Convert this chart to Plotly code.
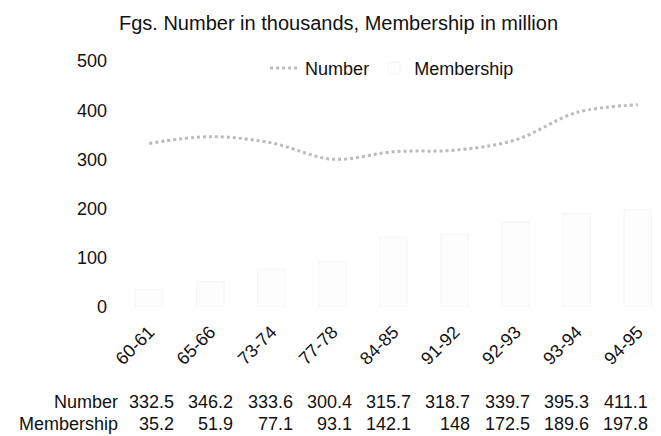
import plotly.graph_objects as go

years = ["60-61", "65-66", "73-74", "77-78", "84-85", "91-92", "92-93", "93-94", "94-95"]
number = [332.5, 346.2, 333.6, 300.4, 315.7, 318.7, 339.7, 395.3, 411.1]
membership = [35.2, 51.9, 77.1, 93.1, 142.1, 148, 172.5, 189.6, 197.8]
number_txt = ["332.5", "346.2", "333.6", "300.4", "315.7", "318.7", "339.7", "395.3", "411.1"]
membership_txt = ["35.2", "51.9", "77.1", "93.1", "142.1", "148", "172.5", "189.6", "197.8"]

font = "Liberation Sans, Arial, sans-serif"
W, H = 661, 436
ml, mr, mt, mb = 118, 8, 53, 137

fig = go.Figure()

fig.add_bar(
    x=years,
    y=membership,
    name="Membership",
    marker=dict(color="rgba(248,248,248,0.3)", line=dict(color="rgba(210,210,210,0.4)", width=0.5)),
    width=0.45,
)

fig.add_scatter(
    x=years,
    y=number,
    name="Number",
    mode="lines",
    line=dict(color="rgba(175,175,175,0.85)", width=3, shape="spline", dash="dot"),
)

# data table under the chart (columns right-aligned)
pw = W - ml - mr
row_y = [-0.434, -0.523]
for label, yy in zip(["Number", "Membership"], row_y):
    fig.add_annotation(x=(112 - ml) / pw, xref="paper", y=yy, yref="paper", text=label,
                       showarrow=False, xanchor="right", font=dict(size=18, color="#111"))
for i in range(len(years)):
    xr = (168 + 59.25 * i - ml) / pw
    fig.add_annotation(x=xr, xref="paper", y=row_y[0], yref="paper", text=number_txt[i],
                       showarrow=False, xanchor="right", font=dict(size=18, color="#111"))
    fig.add_annotation(x=xr, xref="paper", y=row_y[1], yref="paper", text=membership_txt[i],
                       showarrow=False, xanchor="right", font=dict(size=18, color="#111"))

fig.update_layout(
    width=W,
    height=H,
    plot_bgcolor="white",
    paper_bgcolor="white",
    font=dict(family=font, size=18, color="#111"),
    title=dict(text="Fgs. Number in thousands, Membership in million", x=0.5, xanchor="center",
               y=0.982, yanchor="top", font=dict(size=20)),
    margin=dict(l=ml, r=mr, t=mt, b=mb),
    showlegend=True,
    legend=dict(orientation="h", x=0.26, y=0.97, yanchor="middle", xanchor="left",
                font=dict(size=18), traceorder="reversed", bgcolor="rgba(0,0,0,0)"),
    bargap=0.5,
)

fig.update_xaxes(tickangle=-45, showgrid=False, showline=False, ticks="",
                 range=[-0.38, 8.38], tickfont=dict(size=18), ticklabelstandoff=10)
fig.update_yaxes(range=[0, 500], dtick=100, showgrid=False, zeroline=False, showline=False,
                 ticks="", tickfont=dict(size=18), ticklabelstandoff=18)

fig.write_html("out.html")
